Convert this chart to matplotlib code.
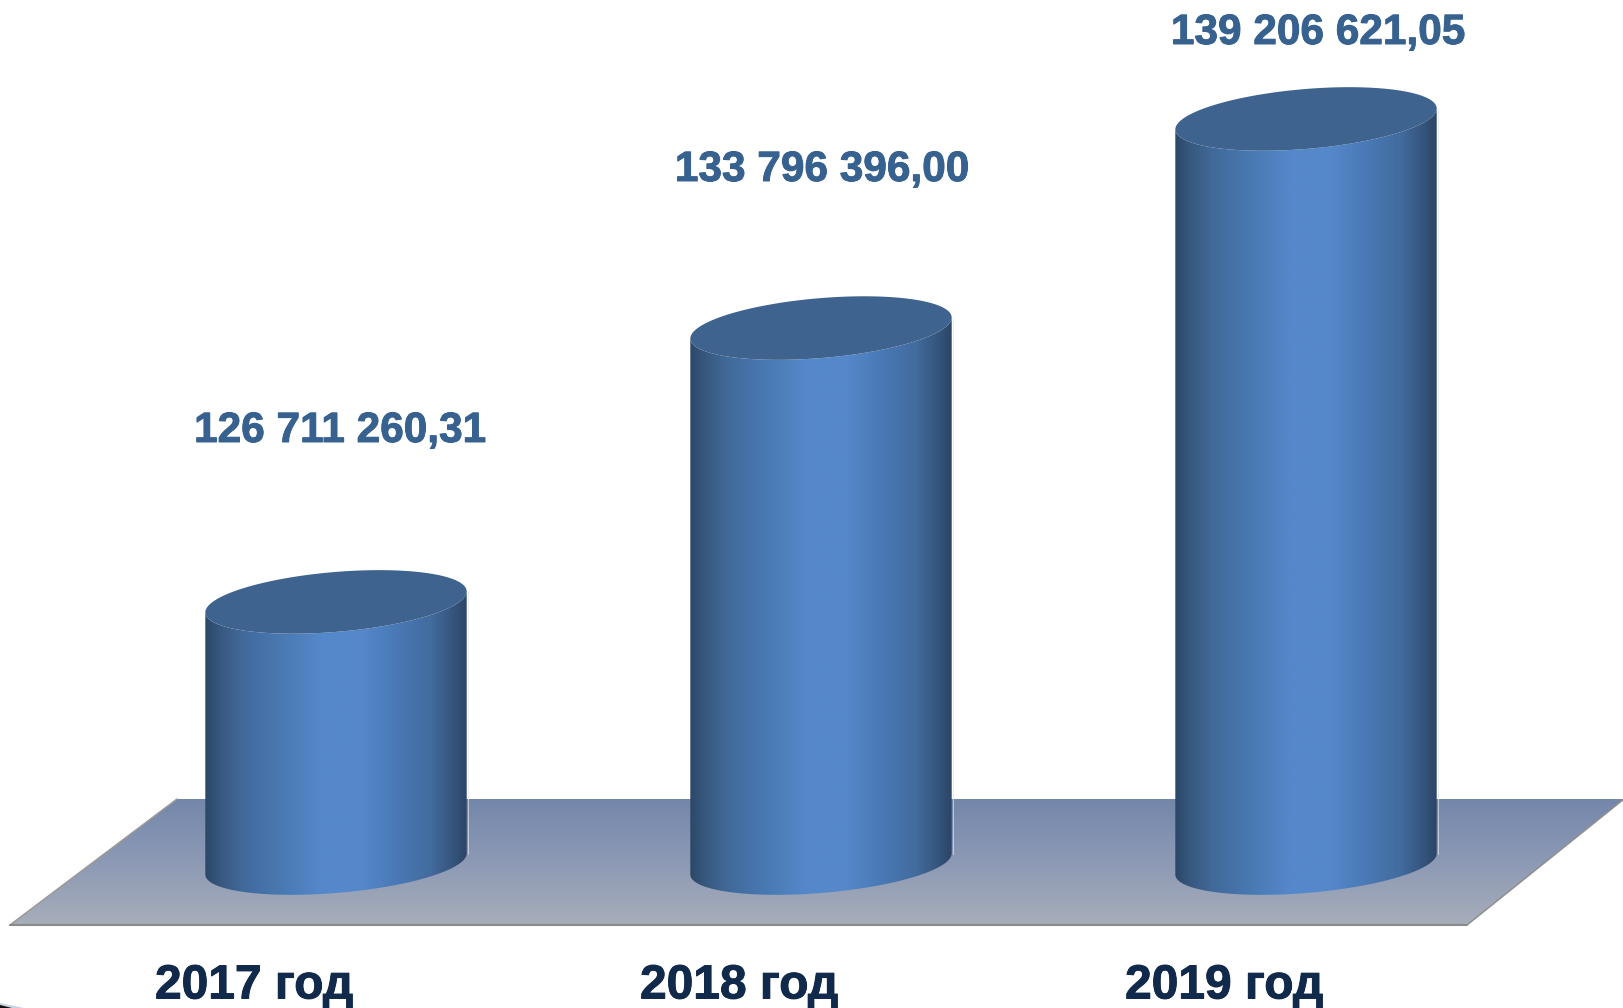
import numpy as np
import matplotlib
matplotlib.use("Agg")
import matplotlib.pyplot as plt
import matplotlib.patheffects as pe
from matplotlib.colors import LinearSegmentedColormap
from matplotlib.patches import Polygon
from matplotlib.transforms import Affine2D

categories = ["2017 год", "2018 год", "2019 год"]
values = [126711260.31, 133796396.00, 139206621.05]

W, H = 1624, 1008
AX_BOTTOM_PX = 935
BASE_VALUE = 119.93e6
BASE_PX = 864
PX_PER_VALUE = 38.65 / 1e6
FIRST_PX, STEP_PX = 336, 485
HALF_W = 130.7
SHEAR = 10.5
MINOR_TOP = 30
MINOR_BOT = 29

plt.rcParams["font.family"] = ["Liberation Sans", "DejaVu Sans"]
fig = plt.figure(figsize=(W / 100, H / 100), dpi=100, facecolor="white")
ax = fig.add_axes([0, 1 - AX_BOTTOM_PX / H, 1, AX_BOTTOM_PX / H])


def X(p):
    return (np.asarray(p, float) - FIRST_PX) / STEP_PX


def Y(p):
    return BASE_VALUE + (BASE_PX - np.asarray(p, float)) / PX_PER_VALUE


def pts(xs, ys):
    return np.column_stack([X(xs), Y(ys)])


# floor
floor_px_x = [10, 177, 1624, 1467]
floor_px_y = [925, 799, 799, 925]
floor = Polygon(pts(floor_px_x, floor_px_y), closed=True, fc="none", ec="none", zorder=1)
ax.add_patch(floor)
floor_cmap = LinearSegmentedColormap.from_list("floor", ["#7487ab", "#8d9ab5", "#a8aeba"])
im = ax.imshow(np.linspace(0, 1, 128)[:, None], cmap=floor_cmap, aspect="auto",
               extent=[X(0), X(W), Y(927), Y(799)], origin="upper", zorder=1,
               interpolation="bilinear")
im.set_clip_path(floor)
ax.plot(X([177, 10]), Y([799, 925]), color="#9a9a98", lw=1.1, zorder=2, solid_capstyle="round")
ax.plot(X([10, 1467]), Y([925, 925]), color="#8a8a8a", lw=1.5, zorder=2, solid_capstyle="round")
ax.plot(X([1467, 1624]), Y([925, 799]), color="#8f8f8f", lw=1.1, zorder=2, solid_capstyle="round")

# cylinders
side_cmap = LinearSegmentedColormap.from_list(
    "side",
    [(0.0, "#2c4869"), (0.06, "#38597f"), (0.14, "#41699a"), (0.3, "#4a7ab4"),
     (0.44, "#5588ca"), (0.6, "#5588ca"), (0.72, "#4a7ab8"), (0.86, "#436c9f"),
     (0.95, "#35557c"), (1.0, "#2b4566")])
t_low = np.linspace(np.pi, 2 * np.pi, 90)
t_all = np.linspace(0, 2 * np.pi, 180)

for i, v in enumerate(values):
    cx = FIRST_PX + i * STEP_PX
    top = BASE_PX - (v - BASE_VALUE) * PX_PER_VALUE
    # side wall: lower edge of the base, then lower edge of the cap
    bx = cx + HALF_W * np.cos(t_low)
    by = BASE_PX - SHEAR * np.cos(t_low) - MINOR_BOT * np.sin(t_low)
    tx = cx + HALF_W * np.cos(t_low[::-1])
    ty = top - SHEAR * np.cos(t_low[::-1]) - MINOR_TOP * np.sin(t_low[::-1])
    wall = Polygon(pts(np.r_[bx, tx], np.r_[by, ty]), closed=True, fc="none", ec="none", zorder=3)
    ax.add_patch(wall)
    g = ax.imshow(np.linspace(0, 1, 256)[None, :], cmap=side_cmap, aspect="auto",
                  extent=[X(cx - HALF_W), X(cx + HALF_W), Y(BASE_PX + 40), Y(top - 40)],
                  zorder=3, interpolation="bilinear")
    g.set_clip_path(wall)
    ax.plot(X([cx + HALF_W + 1, cx + HALF_W + 1]), Y([top - SHEAR, BASE_PX - SHEAR]),
            color="#dfe3ea", lw=0.5, zorder=2.5)
    # cap
    capx = cx + HALF_W * np.cos(t_all)
    capy = top - SHEAR * np.cos(t_all) - MINOR_TOP * np.sin(t_all)
    ax.add_patch(Polygon(pts(capx, capy), closed=True, fc="#3e638f", ec="none", zorder=4))

# value labels (placed by hand in the source chart)
label_px_x = [340, 822, 1318]
label_px_base = [442, 181, 44]
for v, lx, ly in zip(values, label_px_x, label_px_base):
    txt = f"{v:,.2f}".replace(",", " ").replace(".", ",")
    ax.text(X(lx), Y(ly), txt, ha="center", va="baseline", fontsize=30.5,
            fontweight="bold", color="#37618f", zorder=5,
            path_effects=[pe.withStroke(linewidth=0.7, foreground="#37618f")])

# category axis
tick_pos = (np.arange(len(categories)) * STEP_PX + 254 - FIRST_PX) / STEP_PX
ax.set_xticks(tick_pos)
ax.set_xticklabels(categories, fontsize=34.5, fontweight="bold", color="#11294a",
                   path_effects=[pe.withStroke(linewidth=0.7, foreground="#11294a")])
ax.tick_params(axis="x", length=0, pad=20.5)
ax.set_yticks([])
for s in ax.spines.values():
    s.set_visible(False)
ax.set_xlim(X(0), X(W))
ax.set_ylim(Y(AX_BOTTOM_PX), Y(0))
ax.patch.set_alpha(0)

# dark sliver in the bottom-left corner of the source picture
px_transform = Affine2D().scale(1, -1).translate(0, H)
fig.add_artist(Polygon([(0, 1003), (24, 1008), (0, 1008)], closed=True, fc="#c9d3e0", ec="none",
                       transform=px_transform))
fig.add_artist(Polygon([(0, 1005), (12, 1008), (0, 1008)], closed=True, fc="#101010", ec="none",
                       transform=px_transform))

fig.savefig("out.png", dpi=100, facecolor="white")
